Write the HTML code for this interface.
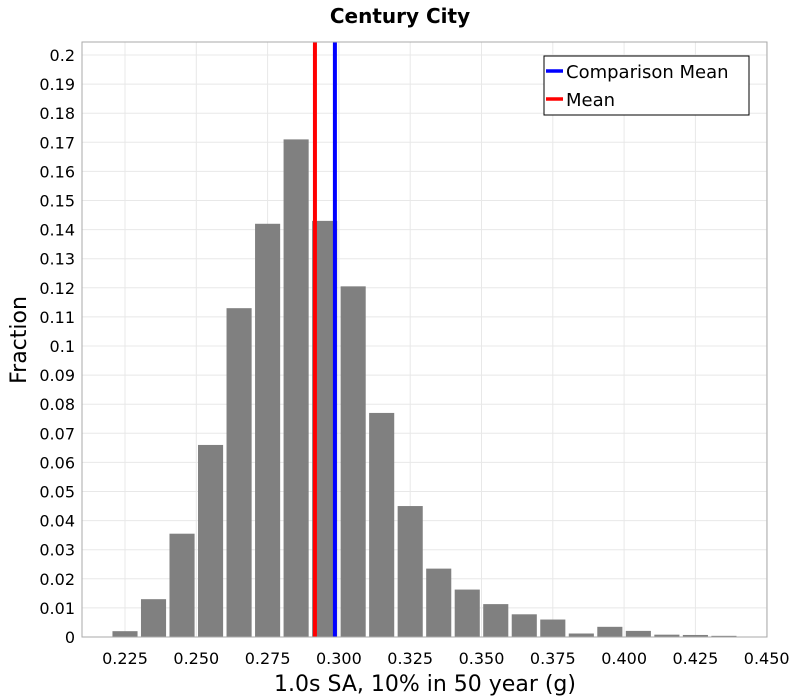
<!DOCTYPE html>
<html><head><meta charset="utf-8"><style>
body{margin:0;background:#fff;}
svg{display:block;font-family:"DejaVu Sans","Liberation Sans",sans-serif;}
</style></head><body>
<svg id="chart" width="800" height="700">
<text x="400" y="23" text-anchor="middle" font-size="20" font-weight="bold">Century City</text>
<g id="grid"></g><g id="bars"></g><g id="lines"></g>
<rect x="82" y="42" width="685" height="595" fill="none" stroke="#aaa"/>
<g id="yticks"></g><g id="xticks"></g>
<text x="425" y="691" text-anchor="middle" font-size="22">1.0s SA, 10% in 50 year (g)</text>
<text transform="translate(26,340) rotate(-90)" text-anchor="middle" font-size="22">Fraction</text>
<g>
<rect x="544" y="56" width="205" height="59" fill="#fff" stroke="#000"/>
<line x1="546" y1="71" x2="563" y2="71" stroke="#0000ff" stroke-width="3.5"/>
<text x="566" y="78" font-size="18">Comparison Mean</text>
<line x1="546" y1="99" x2="563" y2="99" stroke="#ff0000" stroke-width="3.5"/>
<text x="566" y="106" font-size="18">Mean</text>
</g>
</svg>
<script>
const binCenters=[0.225,0.235,0.245,0.255,0.265,0.275,0.285,0.295,0.305,0.315,0.325,0.335,0.345,0.355,0.365,0.375,0.385,0.395,0.405,0.415,0.425,0.435];
const fractions=[0.002,0.013,0.0355,0.066,0.113,0.142,0.171,0.143,0.1205,0.077,0.045,0.0235,0.0163,0.0113,0.0078,0.006,0.0012,0.0035,0.0021,0.0008,0.0007,0.0004];
const meanValue=0.2916;
const comparisonMeanValue=0.2986;
const xTickLabels=["0.225","0.250","0.275","0.300","0.325","0.350","0.375","0.400","0.425","0.450"];
const yTickLabels=["0","0.01","0.02","0.03","0.04","0.05","0.06","0.07","0.08","0.09","0.1","0.11","0.12","0.13","0.14","0.15","0.16","0.17","0.18","0.19","0.2"];
const NS="http://www.w3.org/2000/svg";
const X=v=>125+(v-0.225)*2852;
const Y=v=>637-v*2910;
function mk(tag,attrs,parent){const e=document.createElementNS(NS,tag);for(const k in attrs)e.setAttribute(k,attrs[k]);document.getElementById(parent).appendChild(e);return e;}
yTickLabels.forEach(t=>{const v=parseFloat(t),y=Y(v);
 const g=mk('line',{x1:82,x2:767,y1:y,y2:y,stroke:'#e8e8e8'},'grid');
 
 
 const l=mk('text',{x:75,y:y+6,'text-anchor':'end','font-size':16},'yticks');
 
 
 l.textContent=t;});
xTickLabels.forEach(t=>{const v=parseFloat(t),x=X(v);
 const g=mk('line',{x1:x,x2:x,y1:42,y2:637,stroke:'#e8e8e8'},'grid');
 
 
 const l=mk('text',{x:x,y:664,'text-anchor':'middle','font-size':16},'xticks');
 
 
 l.textContent=t;});
binCenters.forEach((c,i)=>{const x0=X(c-0.0044),x1=X(c+0.0044),y=Y(fractions[i]);
 const b=mk('rect',{x:x0,y:y,width:x1-x0,height:637-y,fill:'#808080'},'bars');
 
 });
const m=mk('line',{x1:X(meanValue),x2:X(meanValue),y1:42,y2:637,stroke:'#ff0000','stroke-width':4},'lines');


const cm=mk('line',{x1:X(comparisonMeanValue),x2:X(comparisonMeanValue),y1:42,y2:637,stroke:'#0000ff','stroke-width':4},'lines');


</script>
</body></html>
